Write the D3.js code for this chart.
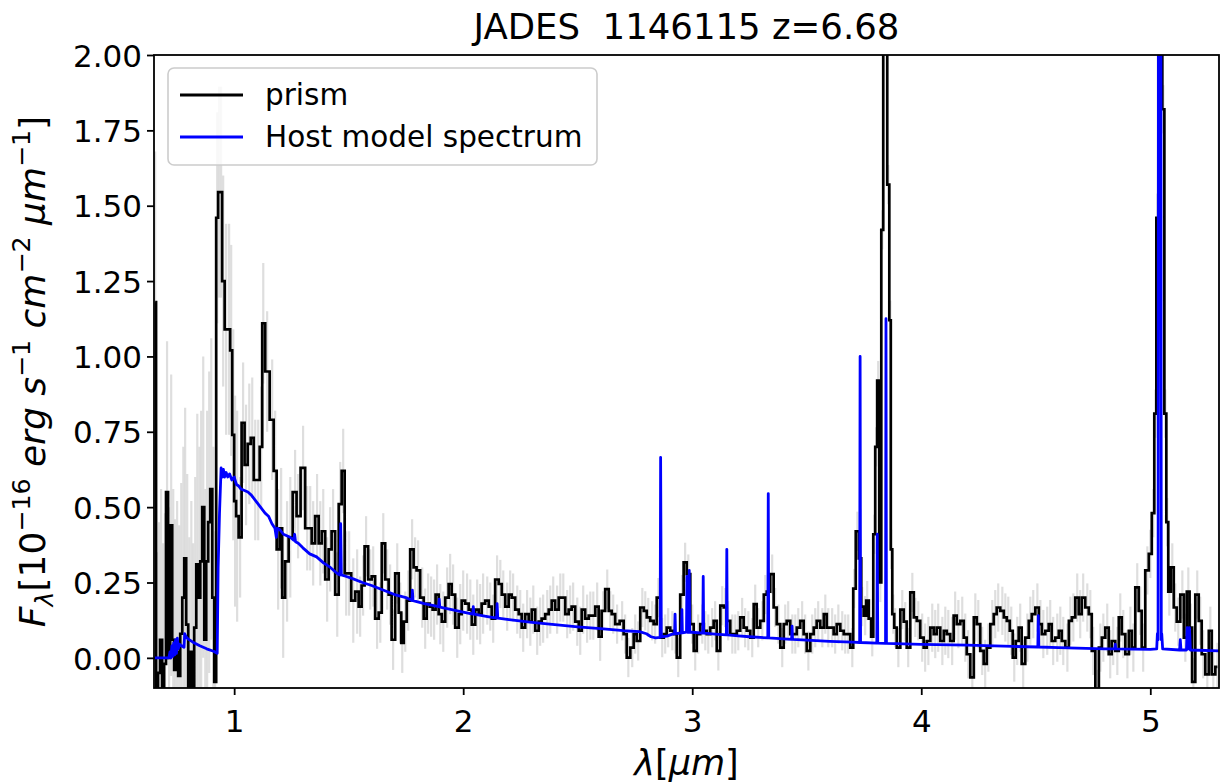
<!DOCTYPE html>
<html>
<head>
<meta charset="utf-8">
<script src="https://cdn.jsdelivr.net/npm/d3@7"></script>
<style>
  body { margin: 0; background: #fff; }
  text { font-family: "DejaVu Sans", sans-serif; white-space: pre; }
</style>
</head>
<body>
<div id="chart"></div>
<script>
// prism spectrum [wavelength um, flux]
var prism = [
  [0.655,1.18],[0.663,-0.15],[0.672,-0.05],[0.681,0.06],[0.690,-0.12],[0.698,-0.02],[0.707,0.55],[0.716,0.00],
  [0.725,0.44],[0.734,0.06],[0.742,-0.04],[0.751,0.02],[0.760,-0.06],[0.769,0.08],[0.778,0.20],[0.786,0.33],
  [0.795,0.11],[0.804,-0.10],[0.813,0.02],[0.821,-0.12],[0.830,0.10],[0.839,0.31],[0.848,0.20],[0.856,0.32],
  [0.865,0.50],[0.874,0.06],[0.882,0.32],[0.891,0.45],[0.900,0.56],[0.909,0.20],[0.917,-0.08],
  [0.926,1.46],[0.934,1.545],[0.943,1.545],[0.952,1.25],[0.965,1.09],[0.978,1.09],[0.987,1.02],[0.996,0.74],
  [1.004,0.52],[1.013,0.47],[1.026,0.40],[1.039,0.78],[1.052,0.64],[1.066,0.71],[1.079,0.73],[1.092,0.59],
  [1.105,0.59],[1.118,0.70],[1.127,1.11],[1.144,0.95],[1.166,0.79],[1.179,0.62],[1.192,0.36],[1.205,0.43],
  [1.214,0.20],[1.231,0.32],[1.245,0.40],[1.266,0.55],[1.279,0.47],[1.301,0.63],[1.319,0.43],[1.332,0.43],
  [1.345,0.38],[1.362,0.47],[1.376,0.38],[1.389,0.42],[1.406,0.26],[1.419,0.36],[1.432,0.42],[1.450,0.21],
  [1.463,0.51],[1.476,0.62],[1.489,0.28],[1.502,0.28],
  [1.520,0.19],[1.537,0.22],[1.550,0.17],[1.563,0.24],[1.576,0.37],[1.594,0.26],[1.607,0.27],[1.624,0.13],
  [1.638,0.15],[1.651,0.38],[1.668,0.26],[1.681,0.21],[1.694,0.06],[1.712,0.28],[1.725,0.15],[1.734,0.05],
  [1.747,0.12],[1.760,0.19],[1.777,0.36],[1.790,0.30],[1.803,0.29],[1.821,0.20],[1.834,0.13],[1.847,0.18],
  [1.860,0.17],[1.873,0.16],[1.886,0.21],[1.900,0.145],[1.913,0.12],[1.930,0.20],[1.943,0.245],[1.956,0.21],
  [1.974,0.10],[1.987,0.145],[2.000,0.19],[2.017,0.18],[2.031,0.16],[2.044,0.11],[2.061,0.16],[2.074,0.145],
  [2.087,0.18],[2.105,0.19],[2.118,0.17],[2.131,0.13],[2.148,0.26],[2.162,0.245],[2.175,0.21],[2.192,0.17],
  [2.205,0.21],[2.218,0.20],[2.236,0.16],[2.249,0.145],[2.262,0.10],[2.279,0.145],[2.293,0.12],[2.306,0.16],
  [2.323,0.09],[2.336,0.12],[2.349,0.13],[2.367,0.145],[2.380,0.16],[2.393,0.19],[2.410,0.16],[2.424,0.20],
  [2.437,0.20],[2.454,0.145],[2.467,0.16],[2.480,0.17],[2.498,0.12],[2.511,0.09],[2.524,0.16],[2.541,0.13],
  [2.555,0.14],[2.568,0.14],[2.585,0.17],[2.598,0.07],[2.611,0.156],[2.629,0.228],[2.642,0.156],[2.655,0.145],
  [2.672,0.112],[2.694,0.123],[2.707,0.079],[2.721,0.001],[2.738,0.034],[2.751,0.079],[2.764,0.056],[2.782,0.167],
  [2.795,0.156],[2.808,0.134],[2.825,0.123],[2.838,0.112],[2.852,0.20],[2.869,0.067],[2.882,0.079],[2.895,0.10],
  [2.913,0.09],[2.926,0.079],[2.939,0.001],[2.956,0.21],[2.969,0.317],[2.983,0.278],[3.000,0.112],[3.013,0.023],
  [3.026,0.079],[3.044,0.112],[3.057,0.09],[3.070,0.079],[3.087,0.10],[3.100,0.123],[3.114,0.023],[3.131,0.173],
  [3.144,0.167],[3.157,0.123],[3.175,0.079],[3.188,0.079],[3.201,0.09],[3.218,0.134],[3.231,0.10],[3.245,0.09],
  [3.262,0.067],[3.275,0.178],[3.288,0.10],[3.306,0.123],[3.319,0.21],[3.332,0.22],[3.349,0.278],[3.362,0.167],
  [3.376,0.112],[3.393,0.034],[3.406,0.112],[3.419,0.123],[3.437,0.079],[3.450,0.079],[3.463,0.10],[3.480,0.123],
  [3.493,0.079],[3.507,0.023],[3.524,0.079],[3.537,0.10],[3.550,0.123],[3.568,0.10],[3.581,0.145],[3.594,0.10],
  [3.611,0.10],[3.624,0.079],[3.638,0.112],[3.655,0.09],[3.668,0.079],[3.681,0.079],[3.699,0.034],
  [3.707,0.23],[3.721,0.42],[3.734,0.33],[3.742,0.17],[3.755,0.14],[3.764,0.19],[3.777,0.13],[3.786,0.07],
  [3.795,0.41],[3.803,0.70],[3.812,0.92],[3.821,0.25],[3.830,1.42],[3.838,2.3],[3.847,2.3],[3.856,1.57],
  [3.865,1.12],[3.869,0.36],[3.878,0.145],[3.886,0.10],[3.900,0.034],
  [3.917,0.16],[3.930,0.12],[3.943,0.034],[3.961,0.217],[3.974,0.134],[3.987,0.123],[4.004,0.067],[4.017,0.034],
  [4.031,0.056],[4.048,0.10],[4.061,0.079],[4.074,0.10],[4.092,0.056],[4.105,0.09],[4.118,0.079],[4.135,0.056],
  [4.148,0.14],[4.162,0.112],[4.179,0.123],[4.192,0.067],[4.205,0.012],[4.223,-0.065],[4.236,0.134],[4.249,0.112],
  [4.266,0.023],[4.279,-0.02],[4.293,0.034],[4.310,0.112],[4.323,0.145],[4.336,0.167],[4.354,0.156],[4.367,0.134],
  [4.380,0.123],[4.393,0.09],[4.406,0.001],[4.419,0.056],[4.432,0.10],[4.445,-0.02],[4.463,0.067],[4.476,0.123],
  [4.489,0.145],[4.507,0.167],[4.520,0.112],[4.533,0.079],[4.550,0.09],[4.563,0.112],[4.576,0.056],[4.594,0.067],
  [4.607,0.09],[4.620,0.056],[4.638,0.034],[4.651,0.123],[4.664,0.134],[4.681,0.20],[4.694,0.145],[4.707,0.20],
  [4.725,0.167],[4.738,0.145],[4.751,0.023],[4.769,-0.12],[4.782,0.034],[4.795,0.067],[4.812,0.10],[4.825,0.012],
  [4.838,0.056],[4.856,0.023],[4.869,0.134],[4.882,0.079],[4.900,0.012],[4.913,0.09],[4.926,0.034],[4.943,0.234],
  [4.956,0.156],[4.969,0.034],[4.987,0.29],[5.000,0.345],[5.013,0.48],[5.022,0.81],[5.031,1.46],[5.039,2.3],
  [5.048,2.3],[5.057,1.82],[5.066,0.81],[5.074,0.45],[5.083,0.22],[5.096,0.30],[5.109,0.167],[5.122,0.12],
  [5.140,0.21],[5.153,0.067],[5.166,0.22],[5.177,0.10],[5.188,-0.08],[5.205,0.21],[5.218,0.123],[5.231,0.012],
  [5.249,-0.055],[5.262,0.09],[5.275,-0.055],[5.293,-0.03]
];

// 1-sigma error of the prism spectrum, per wavelength range [upper edge, error]
var errLevels = [[0.925,0.5],[1.02,0.35],[1.25,0.2],[1.55,0.14],[2.1,0.1],[2.6,0.08],[4.0,0.065],[5.4,0.08]];

// host galaxy model [wavelength um, flux]
var model = [
  [0.65,0.0],[0.715,0.0],[0.72,0.02],[0.724,0.0],[0.728,0.04],[0.732,0.005],[0.736,0.05],[0.74,0.01],
  [0.744,0.06],[0.748,0.015],[0.752,0.065],[0.756,0.03],[0.762,0.045],[0.77,0.04],[0.781,0.035],[0.784,0.08],
  [0.79,0.07],[0.80,0.062],[0.82,0.052],[0.85,0.04],[0.88,0.03],[0.91,0.022],[0.926,0.015],[0.93,0.30],
  [0.936,0.48],[0.943,0.63],[0.948,0.60],[0.953,0.625],[0.958,0.60],[0.965,0.615],[0.972,0.60],[0.98,0.61],
  [0.99,0.59],[1.0,0.60],[1.01,0.575],[1.02,0.57],[1.03,0.56],[1.045,0.555],[1.06,0.55],[1.075,0.54],
  [1.09,0.525],[1.105,0.51],[1.12,0.495],[1.135,0.48],[1.15,0.47],[1.165,0.445],[1.178,0.43],[1.184,0.40],
  [1.188,0.43],[1.20,0.425],[1.215,0.41],[1.23,0.405],[1.245,0.40],[1.26,0.39],[1.264,0.41],[1.268,0.385],
  [1.28,0.38],[1.30,0.365],[1.33,0.345],[1.36,0.335],[1.39,0.315],[1.42,0.30],[1.45,0.28],[1.462,0.275],
  [1.465,0.445],[1.468,0.275],[1.49,0.27],[1.52,0.262],[1.56,0.25],[1.60,0.24],[1.65,0.225],[1.70,0.21],
  [1.75,0.20],[1.776,0.19],[1.778,0.225],[1.781,0.19],[1.83,0.18],[1.893,0.17],[1.895,0.195],[1.898,0.168],
  [1.95,0.16],[2.0,0.152],[2.042,0.145],[2.044,0.17],[2.047,0.145],[2.10,0.138],[2.146,0.132],[2.148,0.18],
  [2.151,0.132],[2.2,0.127],[2.3,0.118],[2.4,0.11],[2.5,0.103],[2.6,0.097],[2.7,0.09],[2.77,0.087],
  [2.80,0.08],[2.82,0.07],[2.84,0.066],[2.86,0.068],[2.862,0.665],[2.865,0.07],[2.89,0.072],[2.91,0.078],
  [2.923,0.08],[2.925,0.145],[2.927,0.08],[2.953,0.083],[2.955,0.16],[2.957,0.083],[2.975,0.085],[2.977,0.27],
  [2.979,0.085],[2.985,0.085],[2.987,0.29],[2.989,0.085],[3.0,0.085],[3.046,0.082],[3.048,0.27],[3.05,0.082],
  [3.1,0.079],[3.149,0.076],[3.151,0.36],[3.153,0.076],[3.2,0.073],[3.25,0.07],[3.33,0.066],[3.332,0.545],
  [3.334,0.066],[3.4,0.063],[3.434,0.061],[3.436,0.105],[3.438,0.061],[3.5,0.059],[3.6,0.055],[3.7,0.052],
  [3.731,0.051],[3.733,1.0],[3.735,0.051],[3.806,0.049],[3.808,0.41],[3.81,0.049],[3.844,0.048],[3.846,1.125],
  [3.848,0.048],[4.0,0.045],[4.2,0.042],[4.4,0.038],[4.509,0.036],[4.511,0.14],[4.513,0.036],[4.6,0.034],
  [4.8,0.03],[4.845,0.03],[4.847,0.045],[4.849,0.03],[5.0,0.028],[5.028,0.03],[5.031,0.08],[5.034,0.06],
  [5.036,2.5],[5.046,2.5],[5.048,0.06],[5.05,0.08],[5.054,0.03],[5.128,0.026],[5.131,0.06],[5.134,0.026],
  [5.158,0.026],[5.161,0.10],[5.165,0.03],[5.171,0.10],[5.175,0.026],[5.3,0.023]
];

var xTicks = [1, 2, 3, 4, 5];
var yTicks = [0, 0.25, 0.5, 0.75, 1.0, 1.25, 1.5, 1.75, 2.0];
var seriesNames = ["prism", "Host model spectrum"];
var seriesColors = ["#000000", "#0000ff"];
var title = "JADES  1146115 z=6.68";

var svgWidth = 1224, svgHeight = 784;
var plot = { left: 154, right: 1219, top: 55, bottom: 688 };

var svg = d3.select("#chart").append("svg")
  .attr("width", svgWidth)
  .attr("height", svgHeight);

var x = d3.scaleLinear().domain([0.65, 5.3]).range([plot.left, plot.right]);
var y = d3.scaleLinear().domain([-0.1, 2.0]).range([plot.bottom, plot.top]);

svg.append("clipPath").attr("id", "clip")
  .append("rect")
  .attr("x", plot.left).attr("y", plot.top)
  .attr("width", plot.right - plot.left).attr("height", plot.bottom - plot.top);

var inner = svg.append("g").attr("clip-path", "url(#clip)");

function errOf(w) {
  return errLevels.find(e => w < e[0])[1];
}

// error bars
inner.selectAll("line.err")
  .data(prism)
  .enter()
  .append("line")
  .attr("class", "err")
  .attr("x1", d => x(d[0])).attr("x2", d => x(d[0]))
  .attr("y1", d => y(d[1] - errOf(d[0])))
  .attr("y2", d => y(d[1] + errOf(d[0])))
  .attr("stroke", "#d3d3d3")
  .attr("stroke-opacity", 0.75)
  .attr("stroke-width", 2.2);

var stepLine = d3.line().x(d => x(d[0])).y(d => y(d[1])).curve(d3.curveStep);
var plainLine = d3.line().x(d => x(d[0])).y(d => y(d[1]));

inner.append("path")
  .datum(prism)
  .attr("d", stepLine)
  .attr("fill", "none")
  .attr("stroke", seriesColors[0])
  .attr("stroke-width", 2.7)
  .attr("stroke-linejoin", "miter");

inner.append("path")
  .datum(model)
  .attr("d", plainLine)
  .attr("fill", "none")
  .attr("stroke", seriesColors[1])
  .attr("stroke-width", 2.8)
  .attr("stroke-linejoin", "round");

// axes
var xAxis = svg.append("g")
  .attr("transform", `translate(0, ${plot.bottom})`)
  .call(d3.axisBottom(x).tickValues(xTicks).tickFormat(d3.format("d")).tickSize(7).tickSizeOuter(0));

var yAxis = svg.append("g")
  .attr("transform", `translate(${plot.left}, 0)`)
  .call(d3.axisLeft(y).tickValues(yTicks).tickFormat(d3.format(".2f")).tickSize(7).tickPadding(5).tickSizeOuter(0));

[xAxis, yAxis].forEach(a => {
  a.select(".domain").remove();
  a.selectAll(".tick line").attr("stroke", "#000").attr("stroke-width", 1.8);
  a.selectAll(".tick text")
    .attr("fill", "#000")
    .attr("font-family", "DejaVu Sans")
    .attr("font-size", 31);
});
xAxis.selectAll(".tick text").attr("y", 44).attr("dy", 0);
yAxis.selectAll(".tick text").attr("dy", "0.36em");

// frame
svg.append("rect")
  .attr("x", plot.left).attr("y", plot.top)
  .attr("width", plot.right - plot.left).attr("height", plot.bottom - plot.top)
  .attr("fill", "none")
  .attr("stroke", "#000")
  .attr("stroke-width", 1.8);

// title
svg.append("text")
  .attr("x", (plot.left + plot.right) / 2)
  .attr("y", 39)
  .attr("text-anchor", "middle")
  .attr("font-size", 35.5)
  .text(title);

// math style labels
function mathLabel(t, parts, size) {
  var cur = 0;
  parts.forEach(p => {
    var off = p.s === 1 ? -0.42 * size : (p.s === -1 ? 0.22 * size : 0);
    t.append("tspan")
      .attr("dy", off - cur)
      .attr("font-size", p.s ? size * 0.7 : size)
      .attr("font-style", p.i ? "italic" : "normal")
      .text(p.t);
    cur = off;
  });
}

var xl = svg.append("text")
  .attr("x", (plot.left + plot.right) / 2)
  .attr("y", 775)
  .attr("text-anchor", "middle")
  .attr("font-size", 35);
mathLabel(xl, [{t: "λ", i: true}, {t: "["}, {t: "μm", i: true}, {t: "]"}], 35);

var yl = svg.append("text")
  .attr("transform", `translate(45, ${(plot.top + plot.bottom) / 2}) rotate(-90)`)
  .attr("text-anchor", "middle")
  .attr("font-size", 36);
mathLabel(yl, [
  {t: "F", i: true}, {t: "λ", i: true, s: -1}, {t: "[10"}, {t: "−16", s: 1},
  {t: " erg", i: true}, {t: " s", i: true}, {t: "−1", s: 1},
  {t: " cm", i: true}, {t: "−2", s: 1}, {t: " μm", i: true}, {t: "−1", s: 1}, {t: "]"}
], 36);

// legend
var legend = svg.append("g");
legend.append("rect")
  .attr("x", 168).attr("y", 68).attr("width", 429).attr("height", 97)
  .attr("rx", 6)
  .attr("fill", "#fff").attr("fill-opacity", 0.8)
  .attr("stroke", "#cccccc").attr("stroke-width", 1.6);
seriesNames.forEach((name, i) => {
  var cy = 95 + i * 42;
  legend.append("line")
    .attr("x1", 180).attr("x2", 243)
    .attr("y1", cy).attr("y2", cy)
    .attr("stroke", seriesColors[i]).attr("stroke-width", 2.8);
  legend.append("text")
    .attr("x", 265).attr("y", cy + 10)
    .attr("font-size", 29.5)
    .text(name);
});
</script>
</body>
</html>
